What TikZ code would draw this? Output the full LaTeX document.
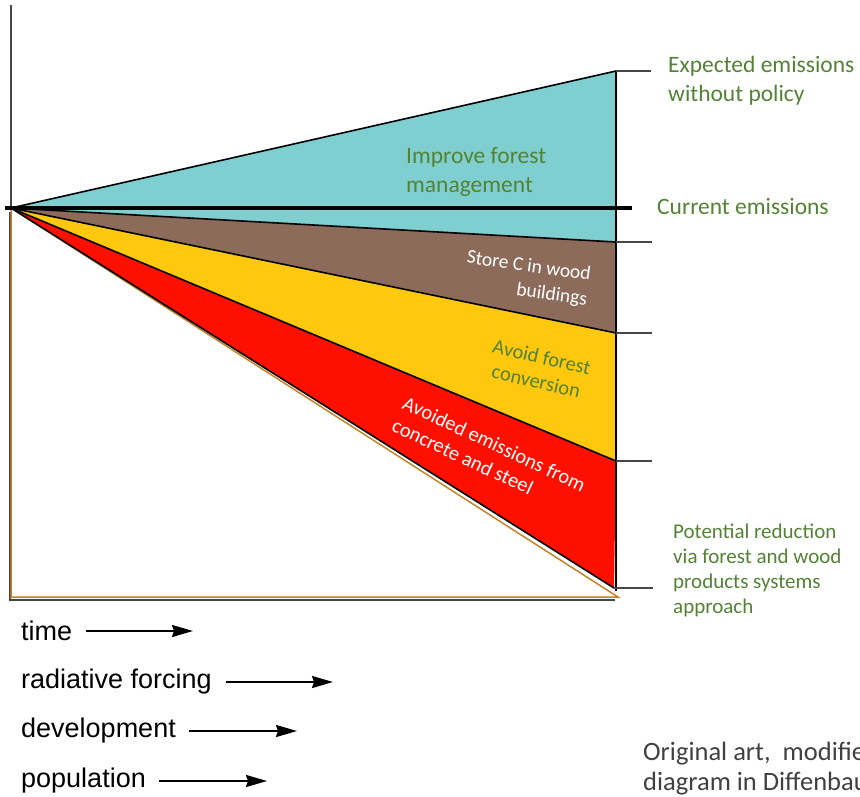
\documentclass[tikz,border=0pt]{standalone}
\usepackage{fontspec}
\setmainfont{Carlito}
\newfontfamily\arialf{Liberation Sans}
\usetikzlibrary{arrows.meta}
\definecolor{cyanf}{RGB}{128,207,208}
\definecolor{brownf}{RGB}{140,107,91}
\definecolor{yellowf}{RGB}{254,200,14}
\definecolor{redf}{RGB}{254,16,0}
\definecolor{greent}{RGB}{84,130,53}
\definecolor{orangel}{RGB}{196,130,40}
\definecolor{grayt}{RGB}{64,64,64}
\definecolor{axisg}{RGB}{70,70,70}
\begin{document}
\begin{tikzpicture}[x=1pt,y=-1pt,
  sep/.style={draw=black,line width=1.6pt},
  tick/.style={draw=axisg,line width=2pt},
  lbl/.style={inner sep=0pt,font=\fontsize{23.5}{29}\selectfont,text=greent},
  inlbl/.style={inner sep=0pt,font=\fontsize{20.5}{25}\selectfont},
  axlbl/.style={inner sep=0pt,anchor=west,font=\arialf\fontsize{27}{30}\selectfont},
  axarrow/.style={line width=2pt,-{Stealth[length=21pt,width=12pt,inset=2pt]}}]
\useasboundingbox (0,0) rectangle (860,796);
\clip (0,0) rectangle (860,796);
% vertices
\coordinate (O) at (11,208);
\coordinate (T) at (616,71);
\coordinate (B1) at (616,242);
\coordinate (B2) at (616,333);
\coordinate (B3) at (616,461);
\coordinate (B4) at (614,588);
\coordinate (OB) at (618,597);
\coordinate (BL) at (11,597);
\coordinate (Ax) at (11,5);
\coordinate (CL) at (5,208);
\coordinate (CR) at (632,208);
\coordinate (RV) at (616,591);
\coordinate (GL) at (10,600);
\coordinate (GR) at (615,600);
\coordinate (GT) at (10,212);
\coordinate (tT) at (651,71);
\coordinate (t1) at (652,242);
\coordinate (t2) at (652,333);
\coordinate (t3) at (652,461);
\coordinate (t4) at (653,588);
% fills
\fill[cyanf] (O)--(T)--(B1)--cycle;
\fill[brownf] (O)--(B1)--(B2)--cycle;
\fill[yellowf] (O)--(B2)--(B3)--cycle;
\fill[redf] (O)--(B3)--(B4)--cycle;
% lower outline
\draw[axisg,line width=1.5pt] (GT)--(GL)--(GR);
\draw[orangel,line width=1.5pt] (O)--(BL)--(OB)--cycle;
% lines
\draw[axisg,line width=2pt] (Ax)--(O);
\draw[sep] (O)--(T);
\draw[sep] (O)--(B1);
\draw[sep] (O)--(B2);
\draw[sep] (O)--(B3);
\draw[sep] (O)--(B4);
\draw[black,line width=4pt] (CL)--(CR);
\draw[black,line width=2.4pt] (T)--(RV);
\draw[tick] (T)--(tT);
\draw[tick] (B1)--(t1);
\draw[tick] (B2)--(t2);
\draw[tick] (B3)--(t3);
\draw[tick] (B4)--(t4);
% labels
\node[lbl,anchor=north west,align=left] (exp) at (668,56) {Expected emissions\\without policy};
\node[lbl,anchor=west] (cur) at (657,206) {Current emissions};
\node[lbl,anchor=north west,align=left] (imp) at (406,147) {Improve forest\\management};
\node[inner sep=0pt,font=\fontsize{19.5}{25}\selectfont,text=white,align=right,rotate=-8] (store) at (527,279) {Store C in wood\\buildings};
\node[inlbl,text=greent,align=center,rotate=-13] (avoid) at (539,369) {Avoid forest\\conversion};
\node[inlbl,text=white,align=left,rotate=-25] (avoided) at (489,455) {Avoided emissions from\\concrete and steel};
\node[inner sep=0pt,anchor=north west,align=left,text=greent,font=\fontsize{21}{25}\selectfont] (pot) at (673,524) {Potential reduction\\via forest and wood\\products systems\\approach};
\node[inner sep=0pt,anchor=north west,align=left,text=grayt,font=\fontsize{26.5}{30}\selectfont] (orig) at (643,742) {Original art,\ \ modifie\\diagram in Diffenbau};
% axis labels
\node[axlbl] (time) at (21,631) {time};
\node[axlbl] (rad) at (21,682) {radiative forcing};
\node[axlbl] (dev) at (21,731) {development};
\node[axlbl] (pop) at (21,781) {population};
\coordinate (timeS) at (86,631);
\coordinate (timeE) at (193,631);
\coordinate (radS) at (226,682);
\coordinate (radE) at (333,682);
\coordinate (devS) at (189,731);
\coordinate (devE) at (297,731);
\coordinate (popS) at (159,781);
\coordinate (popE) at (267,781);
\draw[axarrow] (timeS) -- (timeE);
\draw[axarrow] (radS) -- (radE);
\draw[axarrow] (devS) -- (devE);
\draw[axarrow] (popS) -- (popE);
\end{tikzpicture}
\end{document}
